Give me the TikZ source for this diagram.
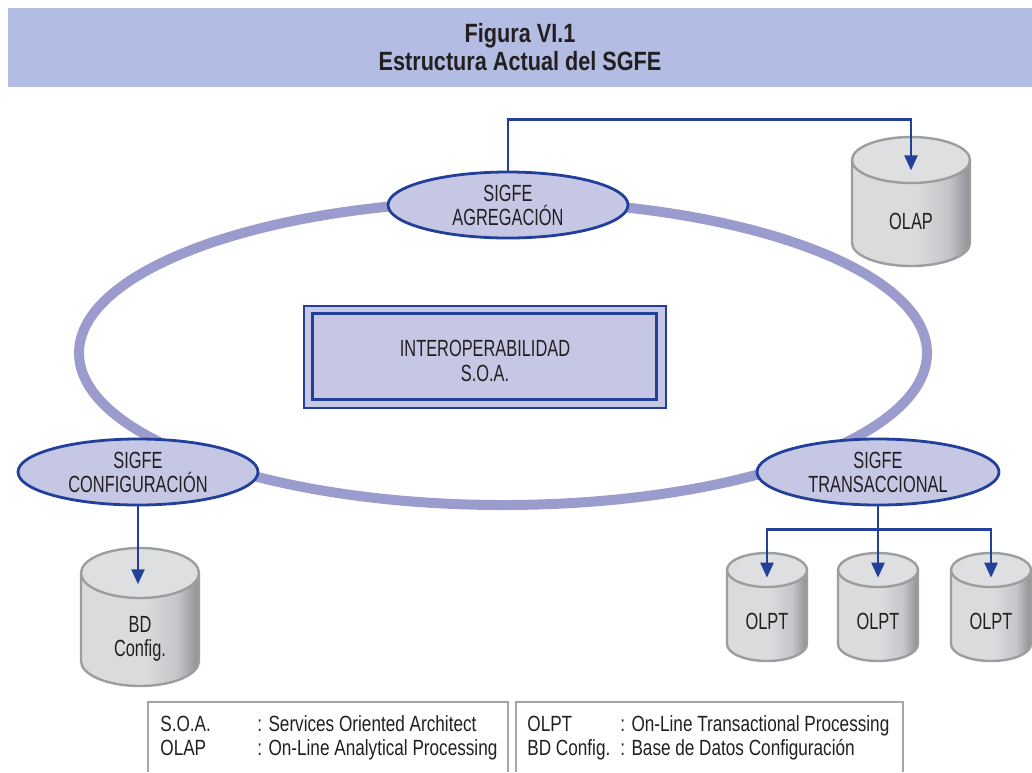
\documentclass[tikz,border=0pt]{standalone}
\usepackage{fontspec}
\setmainfont[FakeStretch=0.7]{Liberation Sans}
\newfontfamily\titlefont[FakeStretch=0.82]{Liberation Sans}
\newfontfamily\legfont[FakeStretch=0.78]{Liberation Sans}
\usetikzlibrary{shapes.geometric,arrows.meta}

\definecolor{bandblue}{HTML}{B3BCE2}
\definecolor{ringblue}{HTML}{9B9CCD}
\definecolor{nodefill}{HTML}{C6C7E5}
\definecolor{linkblue}{HTML}{22409A}
\definecolor{cylL}{HTML}{DADBDD}
\definecolor{cylM}{HTML}{C4C5C8}
\definecolor{cylD}{HTML}{8E8F93}
\definecolor{cyltop}{HTML}{DEDFE1}
\definecolor{cylrim}{HTML}{9C9D9F}
\definecolor{leggray}{HTML}{A6A6A6}
\definecolor{inkdark}{HTML}{231F20}

\pgfdeclarehorizontalshading{cylgray}{100bp}{color(0bp)=(cylL); color(25bp)=(cylL); color(52bp)=(cylL); color(66bp)=(cylM); color(75bp)=(cylD); color(100bp)=(cylD)}

% name, x, top, rx, ry, bottom, label
\newcommand{\dbcyl}[7]{%
	\shade[shading=cylgray] ({#2-#4},{#3+#5}) -- ({#2-#4},{#6-#5}) arc[start angle=180, end angle=0, x radius=#4, y radius=#5] -- ({#2+#4},{#3+#5}) -- cycle;
	\draw[cylline] ({#2-#4},{#3+#5}) -- ({#2-#4},{#6-#5}) arc[start angle=180, end angle=0, x radius=#4, y radius=#5] -- ({#2+#4},{#3+#5});
	\draw[cylline, fill=cyltop] (#2,{#3+#5}) ellipse ({#4} and {#5});
	\coordinate (#1) at (#2,{#3+1.45*#5});
	\node[dblabel] (#1-label) at (#2,{(#3+2*#5+#6)/2-3}) {#7};
}

\begin{document}
\begin{tikzpicture}[x=0.5pt, y=-0.5pt,
	every node/.style={text=inkdark},
	titlebar/.style={fill=bandblue, inner sep=0pt, minimum width=512pt, minimum height=39.5pt, align=center, font=\titlefont\bfseries\fontsize{13.2}{14}\selectfont},
	ring/.style={draw=ringblue, line width=5pt},
	sigfe/.style={ellipse, draw=linkblue, line width=1.4pt, fill=nodefill, inner sep=0pt, align=center, font=\fontsize{11.7}{12}\selectfont},
	soabox/.style={rectangle, draw=linkblue, line width=1.4pt, fill=nodefill, inner sep=0pt, minimum width=181pt, minimum height=51pt},
	soatext/.style={inner sep=0pt, align=center, font=\fontsize{11.7}{12.5}\selectfont},
	link/.style={draw=linkblue, line width=1.25pt, -{Triangle[length=7.5pt, width=6.5pt]}},
	cylline/.style={draw=cylrim, line width=1.2pt},
	dblabel/.style={align=center, inner sep=0pt, font=\fontsize{11.7}{12}\selectfont},
	legline/.style={draw=leggray, line width=1pt},
	legtext/.style={inner sep=0pt, anchor=north west, font=\legfont\fontsize{11}{12}\selectfont}]
	\useasboundingbox (0,0) rectangle (1032,772);

	\node[titlebar] (title) at (520,47.5) {Figura VI.1\\Estructura Actual del SGFE};

	\draw[ring] (503,353) ellipse (424 and 152);

	\node[sigfe, minimum width=120pt, minimum height=33pt] (agreg) at (508,205) {SIGFE\\AGREGACIÓN};
	\node[sigfe, minimum width=120pt, minimum height=33pt] (config) at (138,472) {SIGFE\\CONFIGURACIÓN};
	\node[sigfe, minimum width=121pt, minimum height=33pt] (trans) at (878,472) {SIGFE\\TRANSACCIONAL};

	\node[soabox] (soa) at (485,357) {};
	\draw[draw=linkblue, line width=1.4pt] ([shift={(5pt,-4.5pt)}]soa.north west) rectangle ([shift={(-5.5pt,5pt)}]soa.south east);
	\node[soatext] (soatxt) at (485,361) {INTEROPERABILIDAD\\S.O.A.};

	\dbcyl{olap}{911}{137}{59}{23}{266}{OLAP}
	\dbcyl{bdcfg}{140}{548}{59}{25}{686}{BD\\Config.}
	\dbcyl{olpta}{767}{553}{40}{17}{661}{OLPT}
	\dbcyl{olptb}{878}{553}{40}{17}{661}{OLPT}
	\dbcyl{olptc}{991}{553}{40}{17}{661}{OLPT}

	\draw[link] (agreg.north) -- ++(0,-51) -| (olap);
	\draw[link] (config.south) -- (config.south |- bdcfg);
	\draw[link] (trans.south) -- ++(0,23) -| (olpta);
	\draw[link] (trans.south) -- (olptb);
	\draw[link] (trans.south) -- ++(0,23) -| (olptc);

	\draw[legline] (148,772) -- (148,702) -- (508,702) -- (508,772);
	\draw[legline] (516,772) -- (516,702) -- (903,702) -- (903,772);
	\node[legtext] (legleft) at (160,714.5) {\begin{tabular}{@{}p{48.5pt}@{}l@{}}
		S.O.A. & : Services Oriented Architect\\
		OLAP & : On-Line Analytical Processing
	\end{tabular}};
	\node[legtext] (legright) at (527,714.5) {\begin{tabular}{@{}p{46.5pt}@{}l@{}}
		OLPT & : On-Line Transactional Processing\\
		BD Config. & : Base de Datos Configuración
	\end{tabular}};
\end{tikzpicture}
\end{document}
